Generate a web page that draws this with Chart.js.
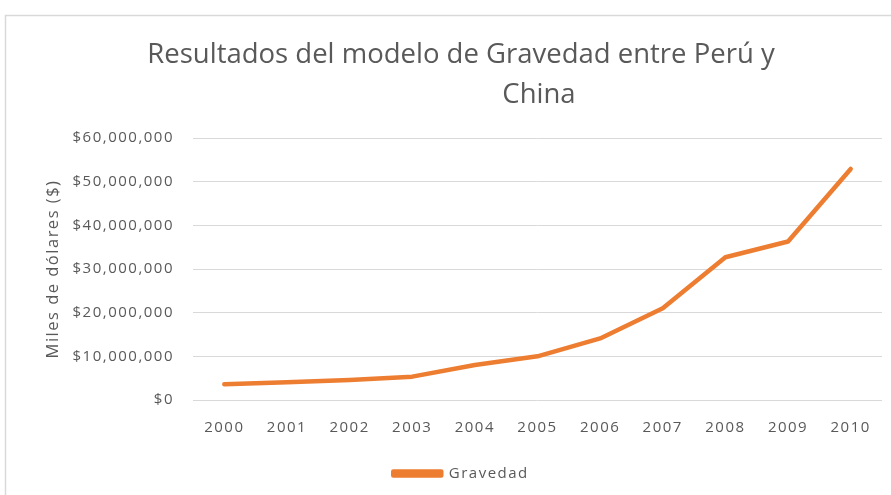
<!DOCTYPE html>
<html>
<head>
<meta charset="utf-8">
<script src="https://cdn.jsdelivr.net/npm/chart.js@4.4.1/dist/chart.umd.min.js"></script>
<style>
  html, body { margin: 0; padding: 0; background: #fff; }
  #wrap { width: 891px; height: 495px; }
</style>
</head>
<body>
<div id="wrap"><canvas id="chartGravedad" width="891" height="495"></canvas></div>
<script>
// ── Datos ────────────────────────────────────────────────────────────────
var anios = ['2000', '2001', '2002', '2003', '2004', '2005', '2006', '2007', '2008', '2009', '2010'];
var gravedad = [3600000, 4050000, 4600000, 5350000, 8000000, 10000000, 14100000, 21000000, 32700000, 36300000, 52900000];
var tituloLineas = ['Resultados del modelo de Gravedad entre Perú y', 'China'];
var ejeYTitulo = 'Miles de dólares ($)';

var GRIS = '#595959';
var NARANJA = '#ED7D31';

// ── Plugin: marco, espaciado de letras y título tipo Excel ───────────────
var marcoTitulo = {
    id: 'marcoTitulo',
    beforeUpdate: function (chart) {
        chart.ctx.letterSpacing = '1.5px';
    },
    beforeDraw: function (chart) {
        var ctx = chart.ctx;
        ctx.save();
        ctx.strokeStyle = '#d9d9d9';
        ctx.lineWidth = 1.5;
        ctx.strokeRect(5.5, 15.5, 1000, 1000);
        ctx.restore();
        ctx.letterSpacing = '1.5px';
    },
    afterDraw: function (chart) {
        var ctx = chart.ctx;
        ctx.save();
        ctx.letterSpacing = '0px';
        ctx.fillStyle = GRIS;
        ctx.font = '400 27.5px "Open Sans", sans-serif';
        ctx.textAlign = 'center';
        ctx.textBaseline = 'alphabetic';
        ctx.fillText(tituloLineas[0], 461, 63);
        ctx.fillText(tituloLineas[1], 539, 103);
        ctx.restore();
    }
};

Chart.defaults.font.family = "'Open Sans', sans-serif";
Chart.defaults.color = GRIS;

new Chart(document.getElementById('chartGravedad'), {
    type: 'line',
    data: {
        labels: anios,
        datasets: [{
            label: 'Gravedad',
            data: gravedad,
            borderColor: NARANJA,
            backgroundColor: NARANJA,
            borderWidth: 4.5,
            borderCapStyle: 'round',
            borderJoinStyle: 'round',
            tension: 0,
            pointRadius: 0,
            fill: false
        }]
    },
    options: {
        responsive: false,
        animation: false,
        devicePixelRatio: 1,
        layout: { padding: { top: 138, left: 40, right: 9, bottom: 4 } },
        plugins: {
            title: { display: false },
            tooltip: { enabled: false },
            legend: {
                position: 'bottom',
                labels: {
                    boxWidth: 48,
                    boxHeight: 4,
                    padding: 10,
                    color: GRIS,
                    font: { size: 15 }
                }
            }
        },
        scales: {
            x: {
                offset: true,
                grid: { display: false, drawTicks: false },
                border: { display: false },
                ticks: { padding: 19, color: GRIS, font: { size: 15 }, maxRotation: 0 }
            },
            y: {
                min: 0,
                max: 60000000,
                afterFit: function (s) { s.width = 153; },
                grid: { color: '#d9d9d9', lineWidth: 1, drawTicks: false },
                border: { display: false },
                ticks: {
                    stepSize: 10000000,
                    padding: 19,
                    color: GRIS,
                    font: { size: 15 },
                    callback: function (v) { return '$' + v.toLocaleString('en-US'); }
                },
                title: {
                    display: true,
                    text: ejeYTitulo,
                    color: GRIS,
                    font: { size: 16.5 },
                    padding: { top: 3, bottom: 0 }
                }
            }
        }
    },
    plugins: [marcoTitulo]
});
</script>
</body>
</html>
